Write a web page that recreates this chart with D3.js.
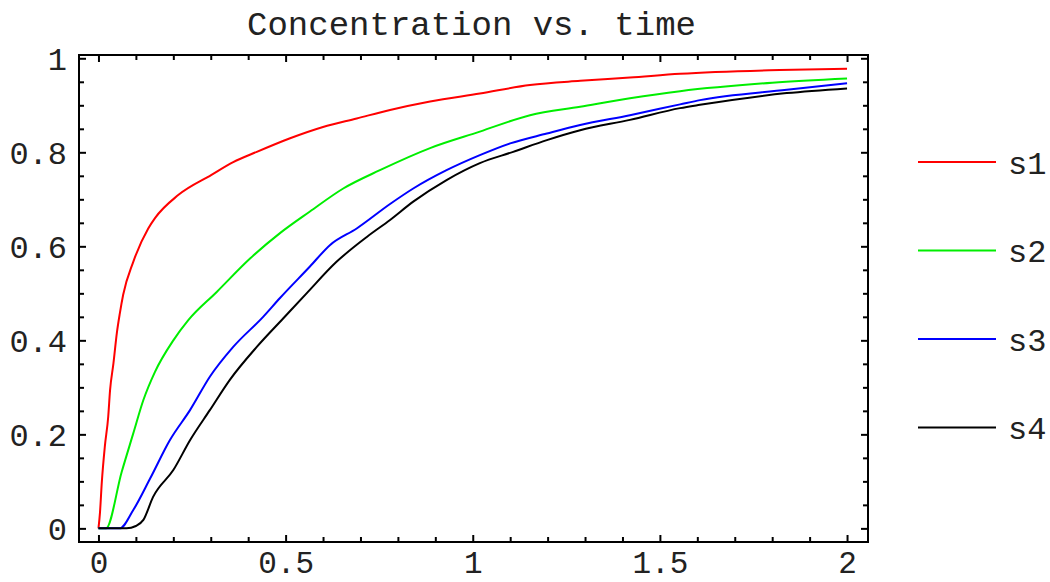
<!DOCTYPE html>
<html>
  <head>
    <meta charset="utf-8" />
    <script src="https://d3js.org/d3.v7.min.js"></script>
    <style>
        body { margin: 0; background: #fff; }
        text { font-family: "Liberation Mono", "Courier New", monospace; fill: #222; }
        .frame { fill: none; stroke: #000; stroke-width: 2; }
        .tick line { stroke: #000; stroke-width: 2; }
        .domain { display: none; }
    </style>
  </head>
  <body>
    <script type="text/javascript">

        // data: [time, concentration]
        var s1 = [[0,0],[0.004,0.033],[0.009,0.099],[0.017,0.174],[0.026,0.237],[0.031,0.294],[0.04,0.351],[0.049,0.415],[0.057,0.457],[0.066,0.497],[0.093,0.567],[0.133,0.638],[0.151,0.66],[0.213,0.709],[0.302,0.752],[0.36,0.779],[0.423,0.801],[0.512,0.83],[0.60,0.854],[0.69,0.872],[0.779,0.89],[0.886,0.908],[1.019,0.925],[1.153,0.943],[1.287,0.952],[1.42,0.959],[1.554,0.967],[1.82,0.975],[2.0,0.978]];
        var s2 = [[0,0],[0.02,0],[0.062,0.12],[0.093,0.202],[0.12,0.273],[0.151,0.333],[0.2,0.40],[0.24,0.443],[0.316,0.503],[0.405,0.574],[0.485,0.628],[0.565,0.674],[0.654,0.723],[0.752,0.762],[0.886,0.809],[1.019,0.844],[1.153,0.879],[1.287,0.897],[1.42,0.915],[1.554,0.93],[1.8,0.948],[2.0,0.957]];
        var s3 = [[0,0],[0.057,0],[0.093,0.039],[0.138,0.106],[0.191,0.188],[0.245,0.252],[0.298,0.323],[0.36,0.386],[0.44,0.45],[0.485,0.49],[0.565,0.557],[0.619,0.603],[0.69,0.638],[0.779,0.69],[0.841,0.723],[0.93,0.762],[1.019,0.794],[1.10,0.819],[1.198,0.84],[1.287,0.858],[1.42,0.879],[1.554,0.902],[1.607,0.911],[1.839,0.933],[2.0,0.947]];
        var s4 = [[0,0],[0.075,0],[0.1,0.005],[0.12,0.018],[0.146,0.067],[0.2,0.124],[0.245,0.188],[0.298,0.252],[0.351,0.316],[0.423,0.386],[0.494,0.447],[0.556,0.50],[0.636,0.567],[0.717,0.62],[0.779,0.656],[0.841,0.695],[0.93,0.741],[1.019,0.777],[1.108,0.801],[1.198,0.826],[1.287,0.847],[1.42,0.869],[1.554,0.894],[1.607,0.901],[1.839,0.926],[2.0,0.936]];

        var seriesNames = ["s1", "s2", "s3", "s4"];
        var seriesColors = ["#ff0000", "#00ee00", "#0000ff", "#000000"];
        var xTicks = [0, 0.5, 1, 1.5, 2];
        var yTicks = [0, 0.2, 0.4, 0.6, 0.8, 1];
        var title = "Concentration vs. time";

        var width = 1050, height = 582;
        var pLeft = 79, pRight = 868, pTop = 55, pBottom = 542;

        var svg = d3.select("body").append("svg")
            .attr("width", width)
            .attr("height", height);

        var x = d3.scaleLinear().domain([-0.052, 2.056]).range([pLeft, pRight]);
        var y = d3.scaleLinear().domain([-0.029, 1.007]).range([pBottom, pTop]);

        var xMinor = d3.range(0, 2.001, 0.1).map(function(d){ return +d.toFixed(2); });
        var yMinor = d3.range(0, 1.001, 0.05).map(function(d){ return +d.toFixed(2); });
        var isMajor = function(list) {
            return function(d) { return list.some(function(t){ return Math.abs(t - d) < 1e-6; }); };
        };
        var xMaj = isMajor(xTicks), yMaj = isMajor(yTicks);

        // ticks pointing inward on all four sides
        function tickSet(axis, vals, maj, labelled) {
            return axis.tickValues(vals)
                .tickSize(0)
                .tickFormat(function(d){ return labelled && maj(d) ? d3.format("")(d) : ""; });
        }

        var gx = svg.append("g").attr("transform", "translate(0," + pBottom + ")")
            .call(tickSet(d3.axisBottom(x), xMinor, xMaj, true));
        var gxt = svg.append("g").attr("transform", "translate(0," + pTop + ")")
            .call(tickSet(d3.axisTop(x), xMinor, xMaj, false));
        var gy = svg.append("g").attr("transform", "translate(" + pLeft + ",0)")
            .call(tickSet(d3.axisLeft(y), yMinor, yMaj, true));
        var gyr = svg.append("g").attr("transform", "translate(" + pRight + ",0)")
            .call(tickSet(d3.axisRight(y), yMinor, yMaj, false));

        gx.selectAll(".tick line").attr("y2", function(d){ return xMaj(d) ? -7 : -5; });
        gxt.selectAll(".tick line").attr("y2", function(d){ return xMaj(d) ? 7 : 5; });
        gy.selectAll(".tick line").attr("x2", function(d){ return yMaj(d) ? 7 : 5; });
        gyr.selectAll(".tick line").attr("x2", function(d){ return yMaj(d) ? -7 : -5; });

        svg.selectAll(".tick text").attr("font-size", 32).attr("fill", "#222")
            .attr("font-family", "Liberation Mono, Courier New, monospace");
        gx.selectAll(".tick text").attr("font-size", 31).attr("y", 31).attr("dy", 0);
        gy.selectAll(".tick text").attr("x", -12).attr("dy", "0.36em");

        svg.append("rect").attr("class", "frame")
            .attr("x", pLeft).attr("y", pTop)
            .attr("width", pRight - pLeft).attr("height", pBottom - pTop);

        var line = d3.line()
            .curve(d3.curveMonotoneX)
            .x(function(d){ return x(d[0]); })
            .y(function(d){ return y(d[1]); });

        var allSeries = [s1, s2, s3, s4];

        svg.append("g").selectAll("path")
            .data(allSeries)
            .enter()
            .append("path")
            .attr("d", line)
            .attr("fill", "none")
            .attr("stroke", function(d,i){ return seriesColors[i]; })
            .attr("stroke-width", 2)
            .attr("stroke-linejoin", "round");

        svg.append("text")
            .attr("x", (pLeft + pRight) / 2 - 2)
            .attr("y", 35)
            .attr("text-anchor", "middle")
            .attr("font-size", 34)
            .text(title);

        // legend
        var legend = svg.append("g").selectAll("g")
            .data(seriesNames)
            .enter()
            .append("g")
            .attr("transform", function(d,i){ return "translate(918," + (162 + i * 88.5) + ")"; });

        legend.append("line")
            .attr("x1", 0).attr("x2", 78)
            .attr("stroke", function(d,i){ return seriesColors[i]; })
            .attr("stroke-width", 2);

        legend.append("text")
            .attr("x", 90)
            .attr("dy", "0.36em")
            .attr("font-size", 32)
            .text(function(d){ return d; });

    </script>
  </body>
</html>
